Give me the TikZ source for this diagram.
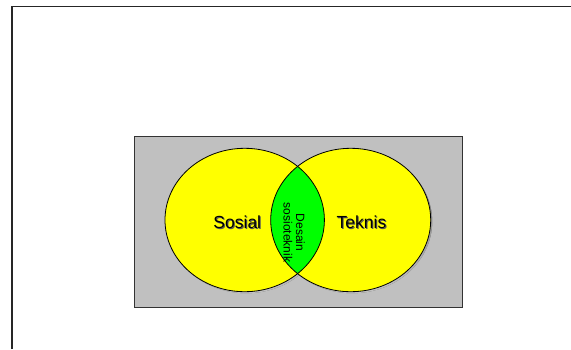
\documentclass[tikz,border=0pt]{standalone}
\usepackage{fontspec}
\usetikzlibrary{shapes.geometric}
\setmainfont{Liberation Sans}
\definecolor{panelgray}{HTML}{C0C0C0}
\definecolor{setyellow}{HTML}{FFFF00}
\definecolor{setgreen}{HTML}{00FF00}
\definecolor{shade}{HTML}{5A5A5A}
\begin{document}
\begin{tikzpicture}[x=1pt,y=-1pt,
  setshape/.style={ellipse,fill=setyellow,inner sep=0pt,minimum height=143.4pt},
  biglabel/.style={font=\fontsize{17.5}{19}\selectfont,inner sep=0pt},
  smalllabel/.style={font=\fontsize{12}{12.5}\selectfont,inner sep=0pt,align=center}]
  \useasboundingbox (0,0) rectangle (571,349);
  % page frame (top and left edges)
  \draw[line width=1.5pt,black!85] (11.8,349) -- (11.8,6.4) -- (571,6.4);
  % grey panel
  \node[fill=panelgray,draw=black!80,line width=0.8pt,minimum width=328pt,minimum height=170.5pt,inner sep=0pt,anchor=north west] (panel) at (133.5,136.3) {};
  % soft shadows of the two sets
  \fill[shade,opacity=0.7] (246.2,221.5) ellipse [x radius=79.7,y radius=71.7];
  \fill[shade,opacity=0.7] (352.2,221.5) ellipse [x radius=80,y radius=71.7];
  % the two sets
  \node[setshape,minimum width=159.4pt] (sosialset) at (244.7,220) {};
  \node[setshape,minimum width=160pt] (teknisset) at (350.7,220) {};
  % intersection
  \begin{scope}
    \clip (244.7,220) ellipse [x radius=79.7,y radius=71.7];
    \fill[setgreen] (350.7,220) ellipse [x radius=80,y radius=71.7];
  \end{scope}
  \draw[line width=0.8pt] (244.7,220) ellipse [x radius=79.7,y radius=71.7];
  \draw[line width=0.8pt] (350.7,220) ellipse [x radius=80,y radius=71.7];
  % labels with drop shadow
  \node[biglabel,text=shade] at (238.3,223.7) {Sosial};
  \node[biglabel] (sosial) at (237.3,222.7) {Sosial};
  \node[biglabel,text=shade] at (362.5,223.7) {Teknis};
  \node[biglabel] (teknis) at (361.5,222.7) {Teknis};
  \node[smalllabel,rotate=-90] (desain) at (294.2,232.5) {Desain\\sosioteknik};
\end{tikzpicture}
\end{document}
